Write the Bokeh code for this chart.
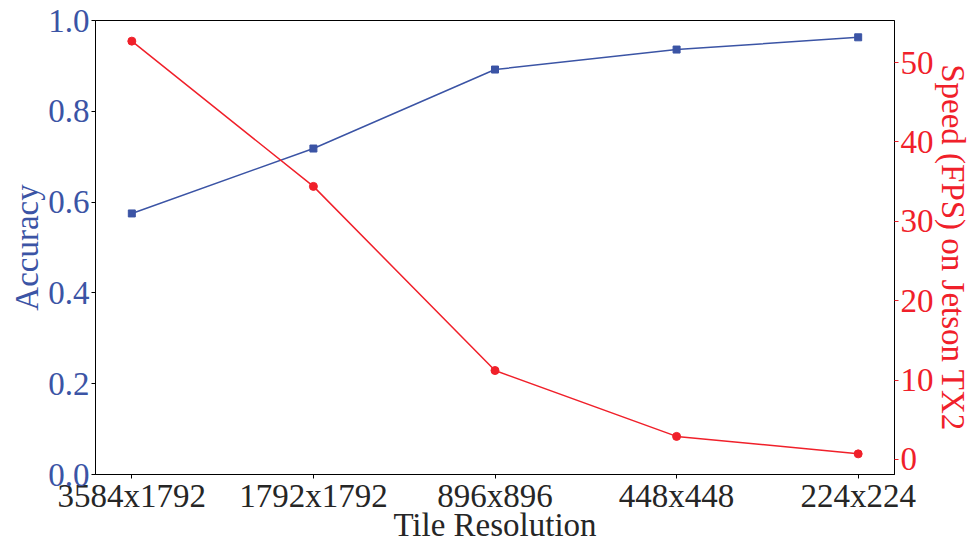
from bokeh.plotting import figure
from bokeh.models import Range1d, LinearAxis, FixedTicker, PrintfTickFormatter
from bokeh.embed import file_html
from bokeh.resources import INLINE

resolutions = ["3584x1792", "1792x1792", "896x896", "448x448", "224x224"]
accuracy = [0.575, 0.718, 0.892, 0.936, 0.963]
speed_fps = [52.7, 34.4, 11.2, 2.9, 0.7]
acc_ticks = [0.0, 0.2, 0.4, 0.6, 0.8, 1.0]
fps_ticks = [0, 10, 20, 30, 40, 50]

BLUE = "#3b54a5"
RED = "#f0202a"
FONT = "Liberation Serif"
TXT = "#262626"

xs = list(range(len(resolutions)))

p = figure(frame_width=799, frame_height=454, min_border_left=95, min_border_top=20,
           min_border_bottom=62, min_border_right=76,
           x_range=Range1d(-0.2, len(resolutions) - 0.8), y_range=Range1d(0, 1),
           output_backend="svg", toolbar_location=None)
p.extra_y_ranges = {"fps": Range1d(-1.9, 55.3)}

p.outline_line_color = "black"
p.outline_line_width = 1
p.xgrid.visible = False
p.ygrid.visible = False

# x axis
xa = p.xaxis[0]
xa.ticker = FixedTicker(ticks=xs)
xa.major_label_overrides = {i: r for i, r in enumerate(resolutions)}
xa.axis_label = "Tile Resolution"

# left axis
ya = p.yaxis[0]
ya.ticker = FixedTicker(ticks=acc_ticks)
ya.formatter = PrintfTickFormatter(format="%.1f")
ya.axis_label = "Accuracy"
ya.axis_label_text_color = BLUE
ya.major_label_text_color = BLUE

# right axis
ra = LinearAxis(y_range_name="fps", axis_label="Speed (FPS) on Jetson TX2")
ra.ticker = FixedTicker(ticks=fps_ticks)
ra.axis_label_text_color = RED
ra.major_label_text_color = RED
ra.major_tick_line_color = RED
p.add_layout(ra, "right")

for ax in [xa, ya, ra]:
    ax.axis_line_color = "black"
    ax.minor_tick_line_color = None
    ax.major_tick_out = 4
    ax.major_tick_in = 0
    ax.major_label_text_font = FONT
    ax.major_label_text_font_size = "33px"
    ax.axis_label_text_font = FONT
    ax.axis_label_text_font_size = "33px"
    ax.axis_label_text_font_style = "normal"
    ax.major_label_standoff = 2
    ax.axis_label_standoff = 0
xa.major_label_text_color = TXT
xa.axis_label_text_color = TXT
xa.major_label_standoff = -1
xa.axis_label_standoff = -10
ra.major_label_standoff = 2
ra.axis_label_standoff = -2
ya.major_label_orientation = "horizontal"
ra.major_label_orientation = "horizontal"

p.line(xs, accuracy, color=BLUE, line_width=1.5)
p.scatter(xs, accuracy, marker="square", size=7, color=BLUE)

p.line(xs, speed_fps, color=RED, line_width=1.5, y_range_name="fps")
p.scatter(xs, speed_fps, marker="circle", size=8, color=RED, y_range_name="fps")

open("out.html", "w").write(file_html(p, INLINE))
